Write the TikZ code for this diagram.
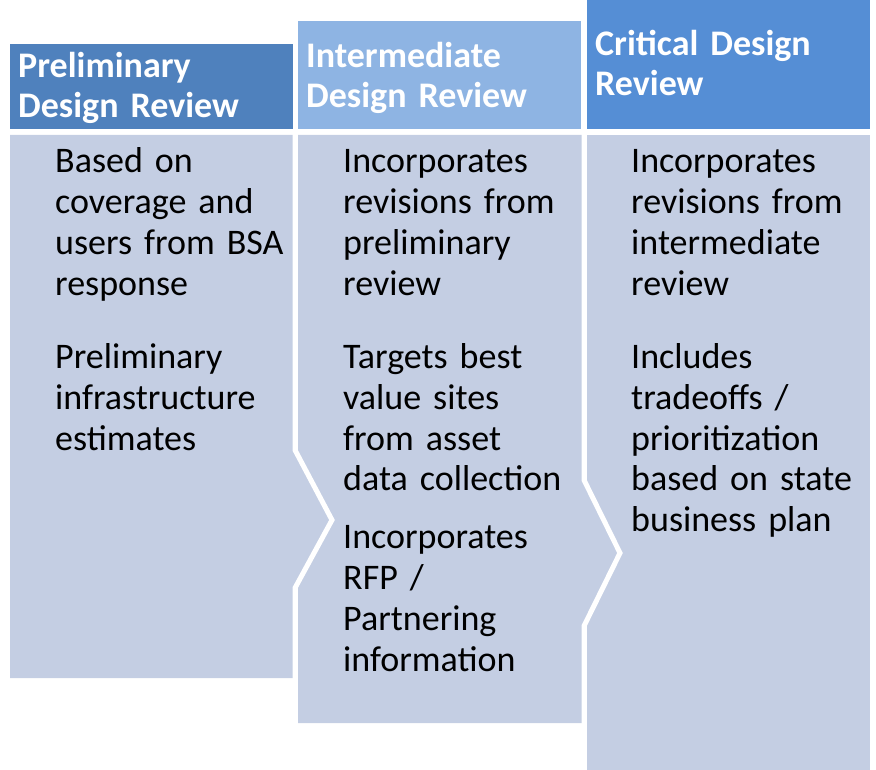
\documentclass[tikz,border=0pt]{standalone}
\usepackage{fontspec}
\setmainfont{Carlito}
\definecolor{pdrblue}{HTML}{4F81BD}
\definecolor{idrblue}{HTML}{8EB4E3}
\definecolor{cdrblue}{HTML}{558ED5}
\definecolor{bodygray}{HTML}{C4CEE3}
\tikzset{
    hdrbox/.style={anchor=north west, inner sep=0pt, minimum width=283pt},
    hdrtext/.style={anchor=base west, inner sep=0pt, text width=280pt, align=left,
        text=white, font=\bfseries\fontsize{36}{40}\selectfont},
    bodytext/.style={anchor=base west, inner sep=0pt, text width=280pt, align=left,
        font=\fontsize{36}{41}\selectfont},
    gapline/.style={draw=white, line width=5pt}
}

\begin{document}
\begin{tikzpicture}[x=1pt, y=-1pt]
    \useasboundingbox (0,0) rectangle (876,770);

    \fill[bodygray] (587,135) rectangle (870,770);
    \fill[bodygray] (298,135) -- (584,135) -- (584,480) -- (620,553) -- (584,626) -- (584,723) -- (298,723) -- cycle;
    \fill[bodygray] (10,135) -- (295,135) -- (295,450) -- (332,520) -- (295,588) -- (295,678) -- (10,678) -- cycle;
    \draw[gapline] (295,130) -- (295,450) -- (332,520) -- (295,588) -- (295,723);
    \draw[gapline] (584,130) -- (584,480) -- (620,553) -- (584,626) -- (584,770);

    \node[hdrbox, fill=pdrblue, minimum height=85pt] (pdr) at (10,44) {};
    \node[hdrbox, fill=idrblue, minimum height=108pt] (idr) at (298,21) {};
    \node[hdrbox, fill=cdrblue, minimum height=129pt] (cdr) at (587,0) {};

    \node[hdrtext] (pdrtitle) at (18,78) {Preliminary\\Design Review};
    \node[hdrtext] (idrtitle) at (306,68) {Intermediate\\Design Review};
    \node[hdrtext] (cdrtitle) at (595,56) {Critical Design\\Review};

    \node[bodytext] (pdrbasis) at (55,173) {Based on\\coverage and\\users from BSA\\response};
    \node[bodytext] (pdrinfra) at (55,368) {Preliminary\\infrastructure\\estimates};

    \node[bodytext] (idrrevs) at (343,173) {Incorporates\\revisions from\\preliminary\\review};
    \node[bodytext] (idrtargets) at (343,368) {Targets best\\value sites\\from asset\\data collection};
    \node[bodytext] (idrrfp) at (343,548) {Incorporates\\RFP /\\Partnering\\information};

    \node[bodytext] (cdrrevs) at (631,173) {Incorporates\\revisions from\\intermediate\\review};
    \node[bodytext] (cdrtradeoffs) at (631,368) {Includes\\tradeoffs /\\prioritization\\based on state\\business plan};
\end{tikzpicture}
\end{document}
